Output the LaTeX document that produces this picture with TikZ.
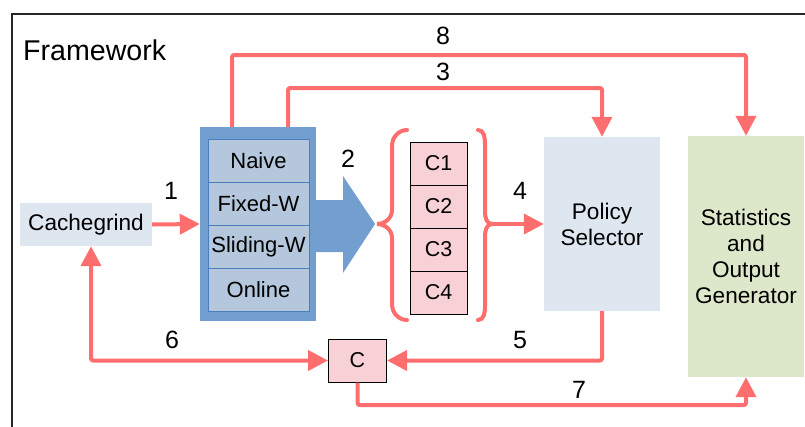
\documentclass[tikz,border=0pt]{standalone}
\usepackage{fontspec}
\setmainfont{Liberation Sans}
\usetikzlibrary{arrows.meta}
\definecolor{cred}{HTML}{FF6E6E}
\definecolor{bluedark}{HTML}{729FCF}
\definecolor{bluecell}{HTML}{B4C7DC}
\definecolor{blueline}{HTML}{4A7EBB}
\definecolor{grayblue}{HTML}{DEE6EF}
\definecolor{lgreen}{HTML}{DDE8CB}
\definecolor{lpink}{HTML}{F8D1D6}
\tikzset{
  lbl/.style={font=\fontsize{22.6}{26}\selectfont, text=black},
  num/.style={font=\fontsize{25}{28}\selectfont, text=black},
  plainbox/.style={lbl, inner sep=0pt, align=center},
  cell/.style={draw=blueline, line width=1pt, fill=bluecell, minimum width=101pt, minimum height=43pt, inner sep=0pt, font=\fontsize{22}{24}\selectfont},
  ccell/.style={draw=black, line width=1pt, fill=lpink, minimum width=57pt, minimum height=43pt, inner sep=0pt, font=\fontsize{21.5}{24}\selectfont},
  conn/.style={draw=cred, line width=4pt, rounded corners=2pt, line join=round, -{Triangle[width=20pt,length=20pt]}},
  brace/.style={draw=cred, line width=4pt, line cap=round},
}
\begin{document}
\begin{tikzpicture}[x=1pt,y=-1pt]
\useasboundingbox (0,0) rectangle (805,426);
\clip (0,0) rectangle (805,426);
% frame
\draw[line width=1.3pt, black!85] (12,440) -- (12,14) -- (820,14);
\node[anchor=base west, font=\fontsize{28.6}{32}\selectfont, inner sep=0pt] (fw) at (23,60) {Framework};

% boxes
\node[plainbox, fill=grayblue, minimum width=132pt, minimum height=43pt] (cg) at (86,224.5) {Cachegrind};
\node[fill=bluedark, minimum width=116pt, minimum height=194pt, inner sep=0pt] (outer) at (258,224) {};
\node[cell] (naive) at (258.5,160.5) {Naive};
\node[cell] (fixed) at (258.5,203.5) {Fixed-W};
\node[cell] (slide) at (258.5,246.5) {Sliding-W};
\node[cell] (online) at (258.5,289.5) {Online};

\node[ccell] (c1) at (438.5,163.5) {C1};
\node[ccell] (c2) at (438.5,206.5) {C2};
\node[ccell] (c3) at (438.5,249.5) {C3};
\node[ccell] (c4) at (438.5,292.5) {C4};

\node[plainbox, fill=grayblue, minimum width=116pt, minimum height=174pt] (ps) at (602,224) {Policy\\Selector};
\node[plainbox, fill=lgreen, minimum width=116pt, minimum height=241pt] (stat) at (746,256.5) {Statistics\\and\\Output\\Generator};
\node[ccell, minimum width=58pt] (cb) at (357.5,360.5) {C};

% big arrow 2
\fill[bluedark] (outer.east |- 0,200) -- (343,200) -- (343,176) -- (375,224) -- (343,273) -- (343,252) -- (outer.east |- 0,252) -- cycle;

% braces
\coordinate (brL) at (377,224);
\coordinate (brR) at (492,224);
\draw[brace] (407,130) to[out=180,in=90] (392,146) -- (392,210) to[out=-90,in=0] (brL)
  to[out=0,in=90] (392,238) -- (392,304) to[out=-90,in=180] (407,320);
\draw[brace] (478,130) to[out=0,in=90] (485,144) -- (485,212) to[out=-90,in=180] (brR)
  to[out=180,in=90] (485,236) -- (485,306) to[out=-90,in=0] (478,320);

% connectors
\coordinate (s3) at ([xshift=30pt]outer.north);
\coordinate (s8) at ([xshift=-26pt]outer.north);
\coordinate (k3) at (602,88);
\coordinate (k8) at (746,55);
\coordinate (k7) at (746,405);
\draw[conn] (cg.east) -- (outer.west);
\draw[conn] (s3) |- (k3) -- (ps.north);
\draw[conn] (s8) |- (k8) -- (stat.north);
\draw[conn] (brR) -- (ps.west);
\draw[conn] (ps.south) |- (cb.east);
\draw[conn, {Triangle[width=20pt,length=20pt]}-{Triangle[width=20pt,length=20pt]}] ([xshift=5pt]cg.south) |- (cb.west);
\draw[conn] (cb.south) |- (k7) -- (stat.south);

% numbers
\node[num] (n1) at (171,191) {1};
\node[num] (n2) at (348,159) {2};
\node[num] (n3) at (443,72) {3};
\node[num] (n8) at (443,36) {8};
\node[num] (n4) at (520,191) {4};
\node[num] (n5) at (520,340) {5};
\node[num] (n6) at (172,340) {6};
\node[num] (n7) at (579,390) {7};
\end{tikzpicture}
\end{document}
